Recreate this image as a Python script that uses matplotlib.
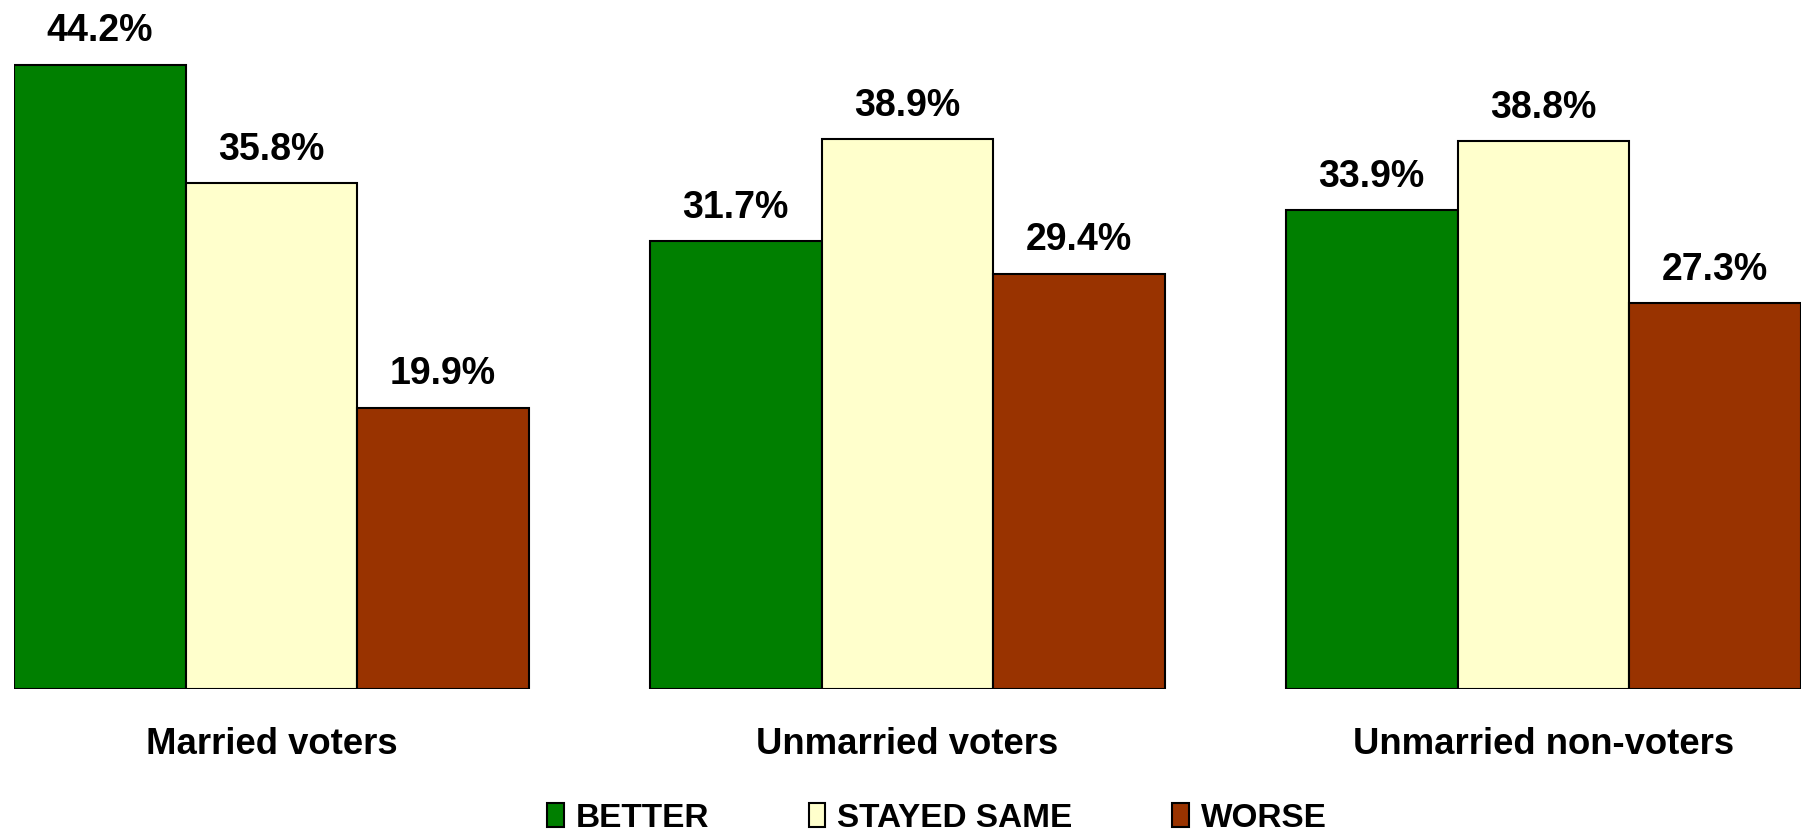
import matplotlib
matplotlib.use("Agg")
import matplotlib.pyplot as plt
from matplotlib.patches import Patch
import numpy as np

categories = ["Married voters", "Unmarried voters", "Unmarried non-voters"]
series_names = ["BETTER", "STAYED SAME", "WORSE"]
better = [44.2, 31.7, 33.9]
stayed_same = [35.8, 38.9, 38.8]
worse = [19.9, 29.4, 27.3]
colors = ["#007F00", "#FFFFCC", "#993300"]

plt.rcParams['font.family'] = ['Liberation Sans', 'DejaVu Sans']

fig = plt.figure(figsize=(18.05, 8.35), dpi=100)
ax = fig.add_axes([13.8 / 1805, (835 - 688.7) / 835, (1801 - 13.8) / 1805, 688.7 / 835])

x = np.arange(len(categories))
w = 0.27
series = [better, stayed_same, worse]
for k, vals in enumerate(series):
    xs = x + (k - 1) * w
    ax.bar(xs, vals, width=w, color=colors[k], edgecolor="black", linewidth=1.5, zorder=2)
    for xi, v in zip(xs, vals):
        ax.annotate(f"{v:.1f}%", xy=(xi, v), xytext=(0, 24), textcoords="offset points",
                    ha="center", va="center", fontsize=27, fontweight="bold")

ax.set_xlim(-1.5 * w, 2 + 1.5 * w)
ax.set_ylim(0, 688.7 / 14.12)
for s in ax.spines.values():
    s.set_visible(False)
ax.set_xticks([])
ax.set_yticks([])

for xi, c in zip(x, categories):
    ax.annotate(c, xy=(xi, 0), xycoords=("data", "axes fraction"), xytext=(0, -40.5),
                textcoords="offset points", ha="center", va="center", fontsize=26.3, fontweight="bold")

handles = [Patch(facecolor=colors[k], edgecolor="black", linewidth=1.5, label=series_names[k]) for k in range(3)]
leg = fig.legend(handles=handles, loc="center", bbox_to_anchor=(0.519, 0.02), ncol=3, frameon=False,
                 prop={"size": 24, "weight": "bold"}, handlelength=0.5, handleheight=0.75,
                 handletextpad=0.35, columnspacing=3.0, borderaxespad=0, borderpad=0)

fig.savefig("out.png", dpi=100)
